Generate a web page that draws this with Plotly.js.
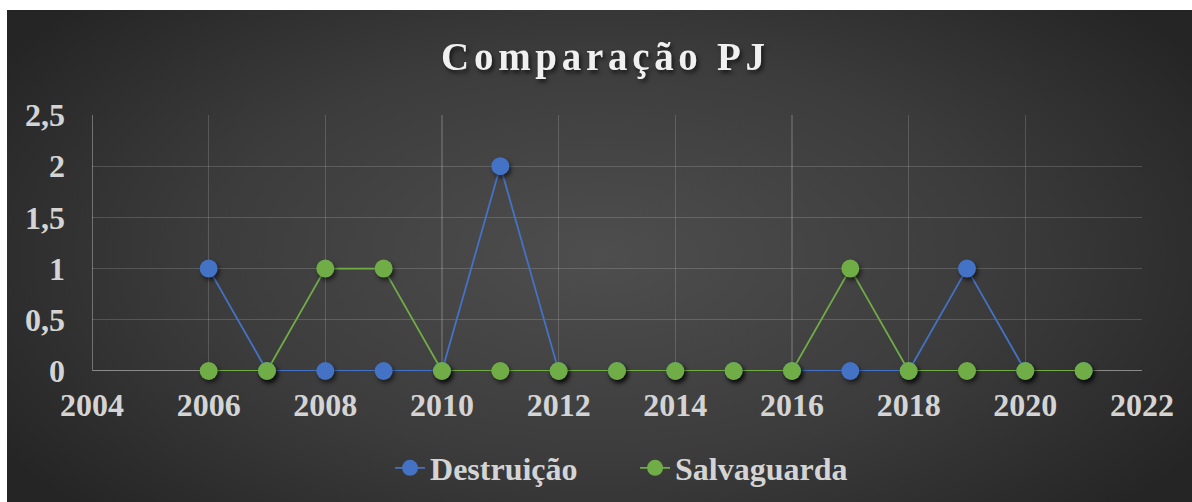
<!DOCTYPE html>
<html>
<head>
<meta charset="utf-8">
<script src="https://cdn.plot.ly/plotly-3.0.1.min.js"></script>
<style>
  html, body { margin: 0; padding: 0; background: #ffffff; width: 1192px; height: 502px; overflow: hidden; }
  #chart {
    position: absolute; left: 7px; top: 10px; width: 1185px; height: 492px;
    background: radial-gradient(ellipse 60% 75% at 50% 50%, #4e4e4e 0%, #3c3c3c 55%, #252525 100%);
  }
  .gtitle { letter-spacing: 4.7px; filter: drop-shadow(2px 3px 2px rgba(0,0,0,0.6)); }
  .scatterlayer .points path { filter: drop-shadow(2px 3px 2px rgba(0,0,0,0.55)); }
</style>
</head>
<body>
<div id="chart"></div>
<script>
const years = [2006, 2007, 2008, 2009, 2010, 2011, 2012, 2013, 2014, 2015, 2016, 2017, 2018, 2019, 2020, 2021];
const destruicao = [1, 0, 0, 0, 0, 2, 0, 0, 0, 0, 0, 0, 0, 1, 0, 0];
const salvaguarda = [0, 0, 1, 1, 0, 0, 0, 0, 0, 0, 0, 1, 0, 0, 0, 0];
const seriesNames = ['Destruição', 'Salvaguarda'];
const chartTitle = 'Comparação PJ';

const serif = 'Liberation Serif, Times New Roman, serif';
const textColor = '#d4d4d4';

const traces = [
  {
    x: years, y: destruicao, name: seriesNames[0], type: 'scatter', mode: 'lines+markers',
    cliponaxis: false,
    line: { color: '#4472C4', width: 1.8 },
    marker: { color: '#4472C4', size: 18 }
  },
  {
    x: years, y: salvaguarda, name: seriesNames[1], type: 'scatter', mode: 'lines+markers',
    cliponaxis: false,
    line: { color: '#70AD47', width: 1.8 },
    marker: { color: '#70AD47', size: 18 }
  }
];

const layout = {
  width: 1185, height: 492,
  paper_bgcolor: 'rgba(0,0,0,0)',
  plot_bgcolor: 'rgba(0,0,0,0)',
  separators: ',.',
  margin: { l: 85, r: 50, t: 105, b: 131, autoexpand: false },
  title: {
    text: '<b>' + chartTitle + '</b>',
    font: { family: serif, size: 39, color: '#f0f0f0' },
    x: 0.505, xanchor: 'center', y: 0.905, yanchor: 'middle'
  },
  xaxis: {
    range: [2004, 2022], dtick: 2, tick0: 2004, automargin: false,
    showgrid: true, gridcolor: 'rgba(255,255,255,0.16)', gridwidth: 1.3,
    zeroline: false, showline: false,
    ticks: '', ticklabelstandoff: 12,
    tickfont: { family: serif, size: 32, color: textColor, weight: 'bold' }
  },
  yaxis: {
    range: [0, 2.5], dtick: 0.5, tick0: 0, automargin: false,
    showgrid: true, gridcolor: 'rgba(255,255,255,0.16)', gridwidth: 1.3,
    zeroline: false, showline: false,
    ticks: '', ticklabelstandoff: 26,
    tickfont: { family: serif, size: 32, color: textColor, weight: 'bold' }
  },
  shapes: [
    { type: 'line', xref: 'paper', yref: 'y', x0: 0, x1: 1, y0: 0, y1: 0, line: { color: '#8a8a8a', width: 1.8 }, layer: 'below' },
    { type: 'line', xref: 'x', yref: 'paper', x0: 2004, x1: 2004, y0: 0, y1: 1, line: { color: '#7a7a7a', width: 1.8 }, layer: 'below' }
  ],
  showlegend: true,
  legend: {
    orientation: 'h', xref: 'container', yref: 'container',
    x: 0.530, xanchor: 'center', y: 0.069, yanchor: 'middle',
    font: { family: serif, size: 32, color: textColor, weight: 'bold' },
    bgcolor: 'rgba(0,0,0,0)', tracegroupgap: 0, entrywidth: 200
  }
};

Plotly.newPlot('chart', traces, layout, { displayModeBar: false, staticPlot: true });
</script>
</body>
</html>
